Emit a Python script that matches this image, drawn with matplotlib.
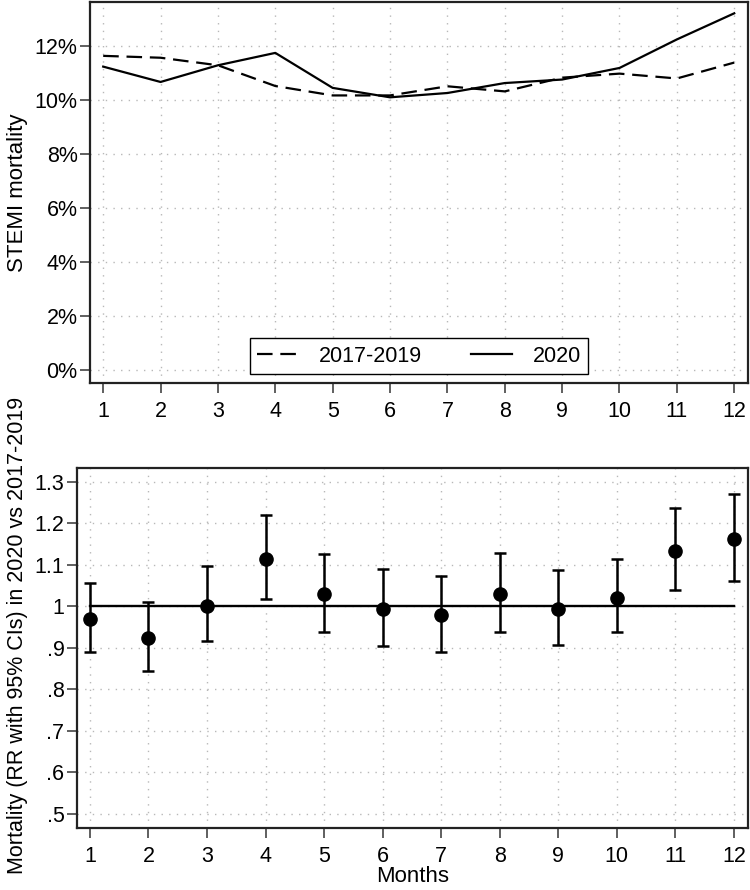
import numpy as np
import matplotlib
matplotlib.use('Agg')
import matplotlib.pyplot as plt

plt.rcParams['font.family'] = ['Liberation Sans', 'DejaVu Sans']

# data
months = [1, 2, 3, 4, 5, 6, 7, 8, 9, 10, 11, 12]
mort_1719 = [11.65, 11.58, 11.30, 10.53, 10.18, 10.18, 10.52, 10.33, 10.84, 10.99, 10.81, 11.40]
mort_2020 = [11.25, 10.68, 11.30, 11.76, 10.46, 10.11, 10.27, 10.64, 10.77, 11.20, 12.26, 13.23]
rr = [0.969, 0.923, 1.001, 1.114, 1.029, 0.993, 0.978, 1.029, 0.993, 1.021, 1.134, 1.162]
rr_lo = [0.890, 0.843, 0.916, 1.018, 0.939, 0.904, 0.891, 0.937, 0.906, 0.937, 1.039, 1.061]
rr_hi = [1.056, 1.010, 1.096, 1.220, 1.127, 1.090, 1.074, 1.129, 1.087, 1.114, 1.237, 1.270]
pct_ticks = [0, 2, 4, 6, 8, 10, 12]
pct_labels = ['0%', '2%', '4%', '6%', '8%', '10%', '12%']
rr_ticks = [0.5, 0.6, 0.7, 0.8, 0.9, 1.0, 1.1, 1.2, 1.3]
rr_labels = ['.5', '.6', '.7', '.8', '.9', '1', '1.1', '1.2', '1.3']

fs = 15.5
grid_kw = dict(color='#b8b8b8', linestyle=(0, (1, 4.5)), linewidth=1.0)

fig = plt.figure(figsize=(7.5, 8.9), dpi=100)


def style_axes(ax):
	for s in ax.spines.values():
		s.set_linewidth(1.6)
		s.set_color('#222222')
	ax.tick_params(direction='out', length=7, width=1.2, color='#444444', labelsize=fs)
	ax.tick_params(axis='y', pad=2)
	ax.tick_params(axis='x', pad=6)
	ax.grid(True, **grid_kw)
	ax.set_axisbelow(True)


# top panel
ax1 = fig.add_axes([90/750, 1-383/890, 658/750, 381/890])
ax1.plot(months, mort_1719, color='black', lw=1.6, dashes=(7, 3.5), label='2017-2019')
ax1.plot(months, mort_2020, color='black', lw=1.6, label='2020')
ax1.set_xlim(0.77, 12.24)
ax1.set_ylim(-0.5, 13.65)
ax1.set_xticks(months)
ax1.set_yticks(pct_ticks)
ax1.set_yticklabels(pct_labels)
ax1.set_ylabel('STEMI mortality', fontsize=16)
ax1.yaxis.set_label_coords(-0.094, 0.5)
style_axes(ax1)
leg = ax1.legend(loc='lower center', ncol=2, fontsize=fs, frameon=True, fancybox=False,
	edgecolor='black', framealpha=1, handlelength=1.9, handletextpad=0.95,
	columnspacing=2.3, borderaxespad=0.4, borderpad=0.35)
leg.get_frame().set_linewidth(1.0)

# bottom panel
ax2 = fig.add_axes([77/750, 1-828/890, 671/750, 360/890])
ax2.plot([1, 12], [1, 1], color='black', lw=1.7, zorder=2)
ax2.errorbar(months, rr, yerr=[np.array(rr) - np.array(rr_lo), np.array(rr_hi) - np.array(rr)],
	fmt='o', color='black', ms=9.5, elinewidth=1.8, capsize=4.5, capthick=1.8, zorder=3)
ax2.set_xlim(0.78, 12.24)
ax2.set_ylim(0.466, 1.333)
ax2.set_xticks(months)
ax2.set_yticks(rr_ticks)
ax2.set_yticklabels(rr_labels)
ax2.set_xlabel('Months', fontsize=16, labelpad=-1)
ax2.set_ylabel('Mortality (RR with 95% CIs) in 2020 vs 2017-2019', fontsize=15.5)
ax2.yaxis.set_label_coords(-0.073, 0.535)
style_axes(ax2)

fig.savefig('out.png', dpi=100)
